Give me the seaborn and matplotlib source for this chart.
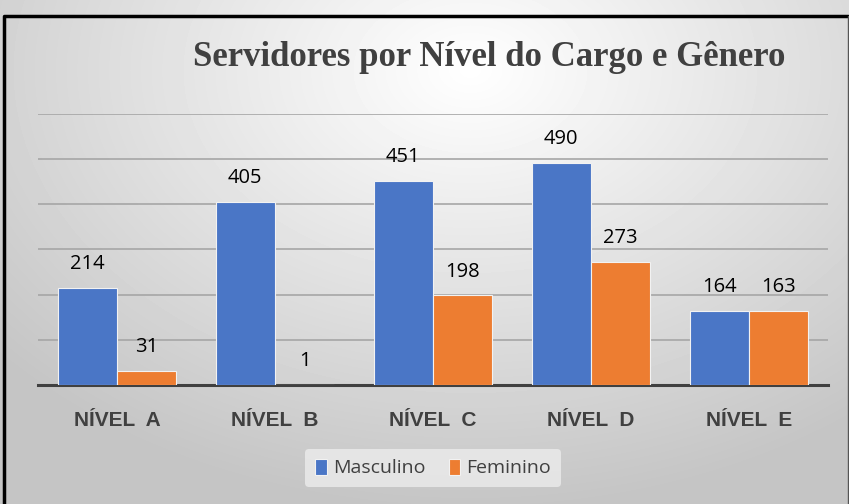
import numpy as np
import pandas as pd
import matplotlib
matplotlib.use("Agg")
import matplotlib.pyplot as plt
import seaborn as sns

niveis = ["NÍVEL  A", "NÍVEL  B", "NÍVEL  C", "NÍVEL  D", "NÍVEL  E"]
masculino = [214, 405, 451, 490, 164]
feminino = [31, 1, 198, 273, 163]

df = pd.DataFrame({
    "nivel": niveis * 2,
    "valor": masculino + feminino,
    "genero": ["Masculino"] * 5 + ["Feminino"] * 5,
})

sns.set_theme(style="white")
plt.rcParams["font.family"] = ["DejaVu Sans"]

fig = plt.figure(figsize=(8.49, 5.04), dpi=100)

# fundo em degrade
bg = fig.add_axes([0, 0, 1, 1], zorder=0)
yy, xx = np.mgrid[0:504, 0:849]
r = np.sqrt(((xx - 470) / 680.0) ** 2 + ((yy - 70) / 480.0) ** 2)
shade = np.clip(1.0 - 0.25 * r, 0.77, 1.0)
bg.imshow(shade, cmap="gray", vmin=0, vmax=1, aspect="auto", extent=[0, 849, 504, 0])
bg.set_xlim(0, 849)
bg.set_ylim(504, 0)
bg.axis("off")
bg.plot([4, 4, 848], [504, 16, 16], color="black", lw=2.5)
bg.plot([848, 848], [16, 504], color="#555555", lw=1)

ax = fig.add_axes([38 / 849, 1 - 385 / 504, 790 / 849, (385 - 113.6) / 504], zorder=1)
ax.patch.set_alpha(0)

sns.barplot(data=df, x="nivel", y="valor", hue="genero",
            palette={"Masculino": "#4a76c6", "Feminino": "#ED7D31"}, saturation=1,
            width=0.75, edgecolor="#f2f2f2", linewidth=0.8, ax=ax, zorder=3)

ax.set_ylim(0, 600)
ax.set_yticks(range(100, 700, 100))
ax.yaxis.grid(True, color="#a6a6a6", lw=1.2, zorder=0)
ax.tick_params(axis="y", left=False, labelleft=False)
ax.tick_params(axis="x", bottom=False, pad=13)
for s in ["top", "right", "left"]:
    ax.spines[s].set_visible(False)
ax.spines["bottom"].set_color("#404040")
ax.spines["bottom"].set_linewidth(2.2)
ax.set_xlabel("")
ax.set_ylabel("")
for lab in ax.get_xticklabels():
    lab.set_family(["Liberation Sans", "DejaVu Sans"])
    lab.set_fontweight("bold")
    lab.set_fontsize(15)
    lab.set_color("#404040")

for cont in ax.containers:
    ax.bar_label(cont, padding=10, fontsize=14.5, color="black",
                 family=["Open Sans", "DejaVu Sans"])

ax.legend_.remove()
handles, labels = ax.get_legend_handles_labels()
leg = fig.legend(handles, labels, loc="center", bbox_to_anchor=(433 / 849, 1 - 468 / 504),
                 ncol=2, frameon=True, handlelength=0.6, handleheight=0.9,
                 handletextpad=0.3, columnspacing=1.2, borderpad=0.5,
                 prop={"family": ["Open Sans", "DejaVu Sans"], "size": 14})
leg.get_frame().set_facecolor("#ececec")
leg.get_frame().set_edgecolor("none")
leg.get_frame().set_alpha(0.8)
for t in leg.get_texts():
    t.set_color("#404040")

fig.text(489 / 849, 1 - 58 / 504, "Servidores por Nível do Cargo e Gênero",
         ha="center", va="center", fontsize=25, fontweight="bold",
         family=["Liberation Serif", "DejaVu Serif"], color="#404040")

fig.savefig("out.png", dpi=100)
